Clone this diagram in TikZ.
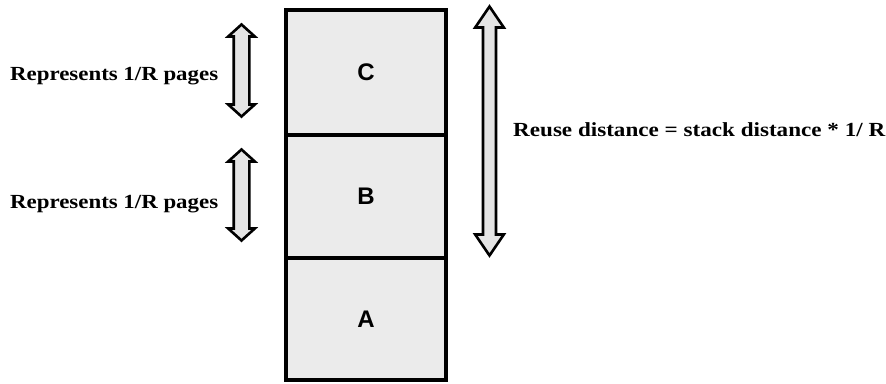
\documentclass[tikz,border=0pt]{standalone}
\usepackage{fontspec}
\usepackage{graphicx}
\setmainfont{Liberation Serif}
\newfontfamily\labelfont{Liberation Sans}
\definecolor{boxgray}{HTML}{EBEBEB}
\definecolor{arrowgray}{HTML}{E4E4E4}

% block arrow with heads at both ends:
% #1 centre x, #2 top tip y, #3 bottom tip y, #4 head half-width, #5 head length, #6 shaft half-width
\newcommand{\dblockarrow}[6]{%
  \draw[blockarrow]
    (#1,#2) -- ++(#4,#5) -- ++({#6-#4},0) -- (#1+#6,#3-#5) -- ++({#4-#6},0)
    -- (#1,#3) -- ++(-#4,-#5) -- ++({#4-#6},0) -- (#1-#6,#2+#5) -- ++({#6-#4},0) -- cycle;}

% text stretched to a given width, keeping its height
\newcommand{\fitto}[2]{\resizebox{#1}{\height}{#2}}

\begin{document}
\begin{tikzpicture}[x=1pt,y=-1pt,
  stackbox/.style={draw=black,line width=3.4pt,fill=boxgray,minimum width=160pt,
    inner sep=0pt,font=\labelfont\bfseries\fontsize{24}{24}\selectfont},
  blockarrow/.style={draw=black,line width=2.6pt,fill=arrowgray,line join=miter},
  caption/.style={anchor=base west,inner sep=0pt,font=\bfseries\fontsize{20}{20}\selectfont}]
\useasboundingbox (0,0) rectangle (886,383);

% the stack of pages
\node[stackbox,minimum height=125pt] (C) at (366,72.5) {C};
\node[stackbox,minimum height=123pt] (B) at (366,196.5) {B};
\node[stackbox,minimum height=122pt] (A) at (366,319) {A};

% arrows marking 1/R pages and the reuse distance
\dblockarrow{241.5}{24.5}{116.5}{13.3}{12}{7.8}
\dblockarrow{241.5}{149.5}{240.5}{13.3}{12}{7.8}
\dblockarrow{489.5}{6.5}{255.5}{14.3}{21}{6.5}

% captions
\node[caption] (r1) at (10,80) {\fitto{208pt}{Represents 1/R pages}};
\node[caption] (r2) at (10,208) {\fitto{208pt}{Represents 1/R pages}};
\node[caption] (reuse) at (513,136) {\fitto{372pt}{Reuse distance = stack distance * 1/ R}};
\end{tikzpicture}
\end{document}
